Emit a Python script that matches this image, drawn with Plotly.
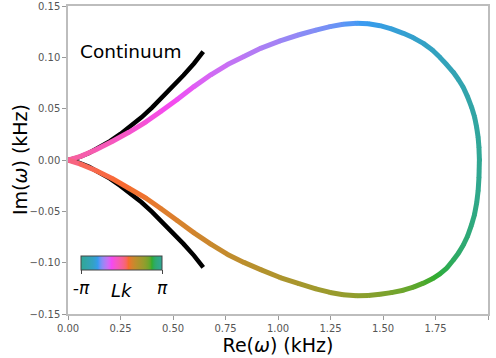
import math
import plotly.graph_objects as go
from plotly.colors import sample_colorscale

# ---- spectrum data: upper branch (Lk from 0 to -pi) ----
lk_upper = [0.0, -0.12, -0.22, -0.33, -0.45, -0.57, -0.68, -0.8, -0.9, -1.0, -1.1,
            -1.19, -1.28, -1.38, -1.48, -1.56, -1.63, -1.7, -1.78, -1.85, -1.92,
            -1.99, -2.06, -2.13, -2.2, -2.27, -2.34, -2.41, -2.48, -2.55, -2.62,
            -2.69, -2.76, -2.83, -2.91, -2.99, -3.07, -3.1416]
re_upper = [0.00, 0.06, 0.13, 0.21, 0.29, 0.37, 0.44, 0.52, 0.60, 0.68, 0.76, 0.84,
            0.92, 1.01, 1.10, 1.18, 1.248, 1.31, 1.375, 1.43, 1.486, 1.54, 1.597,
            1.645, 1.692, 1.735, 1.771, 1.805, 1.835, 1.86, 1.882, 1.903, 1.922,
            1.936, 1.946, 1.953, 1.957, 1.959]
im_upper = [0.000, 0.0035, 0.0098, 0.018, 0.027, 0.037, 0.047, 0.059, 0.0715, 0.083,
            0.093, 0.101, 0.109, 0.116, 0.122, 0.1265, 0.1299, 0.1322, 0.1331, 0.1327,
            0.1308, 0.1278, 0.1234, 0.1190, 0.1136, 0.1072, 0.1000, 0.0925, 0.0854,
            0.0782, 0.0708, 0.0615, 0.0513, 0.0420, 0.0318, 0.0220, 0.0123, 0.000]

# ---- lower branch (Lk from 0 to +pi) ----
lk_lower = [0.0, 0.4, 0.45, 0.5, 0.55, 0.62, 0.7, 0.78, 0.86, 0.95, 1.04,
            1.14, 1.24, 1.35, 1.46, 1.56, 1.64, 1.71, 1.8, 1.88, 1.96,
            2.04, 2.12, 2.2, 2.27, 2.34, 2.41, 2.48, 2.55, 2.61, 2.67,
            2.73, 2.79, 2.85, 2.92, 3.0, 3.07, 3.1416]
re_lower = [0.00, 0.06, 0.13, 0.21, 0.29, 0.37, 0.44, 0.52, 0.60, 0.68, 0.76, 0.84,
            0.92, 1.01, 1.10, 1.18, 1.248, 1.31, 1.375, 1.43, 1.486, 1.54, 1.597,
            1.645, 1.692, 1.735, 1.771, 1.805, 1.835, 1.86, 1.882, 1.903, 1.922,
            1.936, 1.946, 1.953, 1.957, 1.959]
im_lower = [0.000, -0.004, -0.010, -0.018, -0.0275, -0.037, -0.047, -0.059, -0.071,
            -0.082, -0.092, -0.100, -0.107, -0.1145, -0.1205, -0.1255, -0.1290,
            -0.1312, -0.1322, -0.1320, -0.1308, -0.1292, -0.1268, -0.1238, -0.1200,
            -0.1157, -0.1110, -0.1050, -0.0974, -0.0905, -0.0830, -0.0740, -0.0630,
            -0.0530, -0.0420, -0.0300, -0.0170, 0.000]

# ---- continuum edges ----
re_cont = [0.0, 0.05, 0.10, 0.15, 0.20, 0.25, 0.30, 0.35, 0.40, 0.45, 0.50, 0.55, 0.60, 0.644]
im_cont_upper = [0.0, 0.0025, 0.0068, 0.012, 0.0183, 0.0254, 0.033, 0.0416, 0.051,
                 0.061, 0.0715, 0.0825, 0.094, 0.1055]
im_cont_lower = [0.0, -0.0025, -0.0067, -0.0119, -0.0181, -0.0252, -0.0327, -0.0412,
                 -0.0505, -0.0604, -0.0708, -0.0817, -0.0931, -0.1045]

x_ticks = [0.0, 0.25, 0.5, 0.75, 1.0, 1.25, 1.5, 1.75, 2.0]
y_ticks = [-0.15, -0.10, -0.05, 0.0, 0.05, 0.10, 0.15]


# ---- cyclic HSLuv colour map ----
_M = [[3.240969941904521, -1.537383177570093, -0.498610760293],
      [-0.96924363628087, 1.87596750150772, 0.041555057407175],
      [0.055630079696993, -0.20397695888897, 1.056971514242878]]
_KAPPA = 903.2962962
_EPS = 0.0088564516


def _bounds(L):
    sub1 = (L + 16) ** 3 / 1560896
    sub2 = sub1 if sub1 > _EPS else L / _KAPPA
    out = []
    for m1, m2, m3 in _M:
        for t in (0, 1):
            top1 = (284517 * m1 - 94839 * m3) * sub2
            top2 = (838422 * m3 + 769860 * m2 + 731718 * m1) * L * sub2 - 769860 * t * L
            bottom = (632260 * m3 - 126452 * m2) * sub2 + 126452 * t
            out.append((top1 / bottom, top2 / bottom))
    return out


def _max_chroma(L, H):
    hr = math.radians(H)
    best = float("inf")
    for slope, intercept in _bounds(L):
        length = intercept / (math.sin(hr) - slope * math.cos(hr))
        if length >= 0:
            best = min(best, length)
    return best


def hsluv_rgb(H, S, L):
    C = _max_chroma(L, H) / 100 * S
    U = C * math.cos(math.radians(H))
    V = C * math.sin(math.radians(H))
    Y = ((L + 16) / 116) ** 3 if L > 8 else L / _KAPPA
    ref_u, ref_v = 0.19783000664283, 0.46831999493879
    vu = U / (13 * L) + ref_u
    vv = V / (13 * L) + ref_v
    X = -(9 * Y * vu) / ((vu - 4) * vv - vu * vv)
    Z = (9 * Y - 15 * vv * Y - vv * X) / (3 * vv)
    rgb = []
    for row in _M:
        c = row[0] * X + row[1] * Y + row[2] * Z
        c = 1.055 * c ** (1 / 2.4) - 0.055 if c > 0.0031308 else 12.92 * c
        rgb.append(int(round(max(0.0, min(1.0, c)) * 255)))
    return "rgb({},{},{})".format(*rgb)


HUE0 = 172.0
phase_scale = [[i / 72, hsluv_rgb((HUE0 + 5 * i) % 360, 90, 62)] for i in range(73)]


def phase_colour(lk):
    frac = min(1.0, max(0.0, (lk + math.pi) / (2 * math.pi)))
    return sample_colorscale(phase_scale, [frac])[0]


fig = go.Figure()

# continuum edges
for im_c in (im_cont_upper, im_cont_lower):
    fig.add_trace(go.Scatter(x=re_cont, y=im_c, mode="lines",
                             line=dict(color="black", width=4.5),
                             showlegend=False, hoverinfo="skip"))

# spectrum branches, each segment coloured by its Lk
for lks, res, ims in ((lk_upper, re_upper, im_upper), (lk_lower, re_lower, im_lower)):
    for i in range(len(res) - 1):
        col = phase_colour(0.5 * (lks[i] + lks[i + 1]))
        fig.add_trace(go.Scatter(x=res[i:i + 2], y=ims[i:i + 2], mode="lines",
                                 line=dict(color=col, width=5),
                                 showlegend=False, hoverinfo="skip"))
    fig.add_trace(go.Scatter(x=res, y=ims, mode="markers",
                             marker=dict(size=4.6, color=[phase_colour(v) for v in lks],
                                         line=dict(width=0)),
                             showlegend=False, hoverinfo="skip"))

# colour bar for Lk
fig.add_trace(go.Scatter(
    x=[None], y=[None], mode="markers", showlegend=False, hoverinfo="skip",
    marker=dict(color=[0], colorscale=phase_scale, cmin=-math.pi, cmax=math.pi,
                showscale=True,
                colorbar=dict(orientation="h", x=(121.5 - 68) / 420, xanchor="center",
                              y=(314 - 256) / 308, yanchor="top", len=81, lenmode="pixels",
                              thickness=14, thicknessmode="pixels",
                              outlinewidth=1, outlinecolor="#444", xpad=0, ypad=0,
                              tickvals=[-math.pi, math.pi], ticktext=["-π", "π"],
                              ticks="outside", ticklen=4, tickcolor="#444",
                              tickfont=dict(family="DejaVu Sans", size=17,
                                            color="black", style="italic")))))

fig.add_annotation(x=(121.5 - 68) / 420, y=(314 - 290) / 308, xref="paper", yref="paper",
                   text="Lk", showarrow=False, xanchor="center", yanchor="middle",
                   font=dict(family="DejaVu Sans", size=18, color="black", style="italic"))

fig.add_annotation(x=0.047, y=0.1055, xref="x", yref="y", text="Continuum",
                   showarrow=False, xanchor="left", yanchor="middle",
                   font=dict(family="DejaVu Sans", size=18.5, color="black"))

# y-axis title
fig.add_annotation(x=(20 - 68) / 420, y=0.5, xref="paper", yref="paper",
                   text="Im(<i>ω</i>) (kHz)", textangle=-90, showarrow=False,
                   xanchor="center", yanchor="middle",
                   font=dict(family="DejaVu Sans", size=19, color="black"))

axis_common = dict(showline=True, mirror=True, linecolor="#bdbdbd", linewidth=1.5,
                   ticks="outside", ticklen=4, tickwidth=1, tickcolor="#999",
                   showgrid=False, zeroline=False, automargin=False,
                   tickfont=dict(family="DejaVu Sans", size=10, color="#555"))

fig.update_layout(
    width=496, height=358,
    margin=dict(l=68, r=8, t=6, b=44),
    paper_bgcolor="white", plot_bgcolor="white",
    xaxis=dict(range=[0, 2], tickvals=x_ticks, tickformat=".2f",
               title=dict(text="Re(<i>ω</i>) (kHz)", standoff=2,
                          font=dict(family="DejaVu Sans", size=19, color="black")),
               **axis_common),
    yaxis=dict(range=[-0.15, 0.15], tickvals=y_ticks, tickformat=".2f",
               **axis_common),
)

fig.write_html("out.html")
